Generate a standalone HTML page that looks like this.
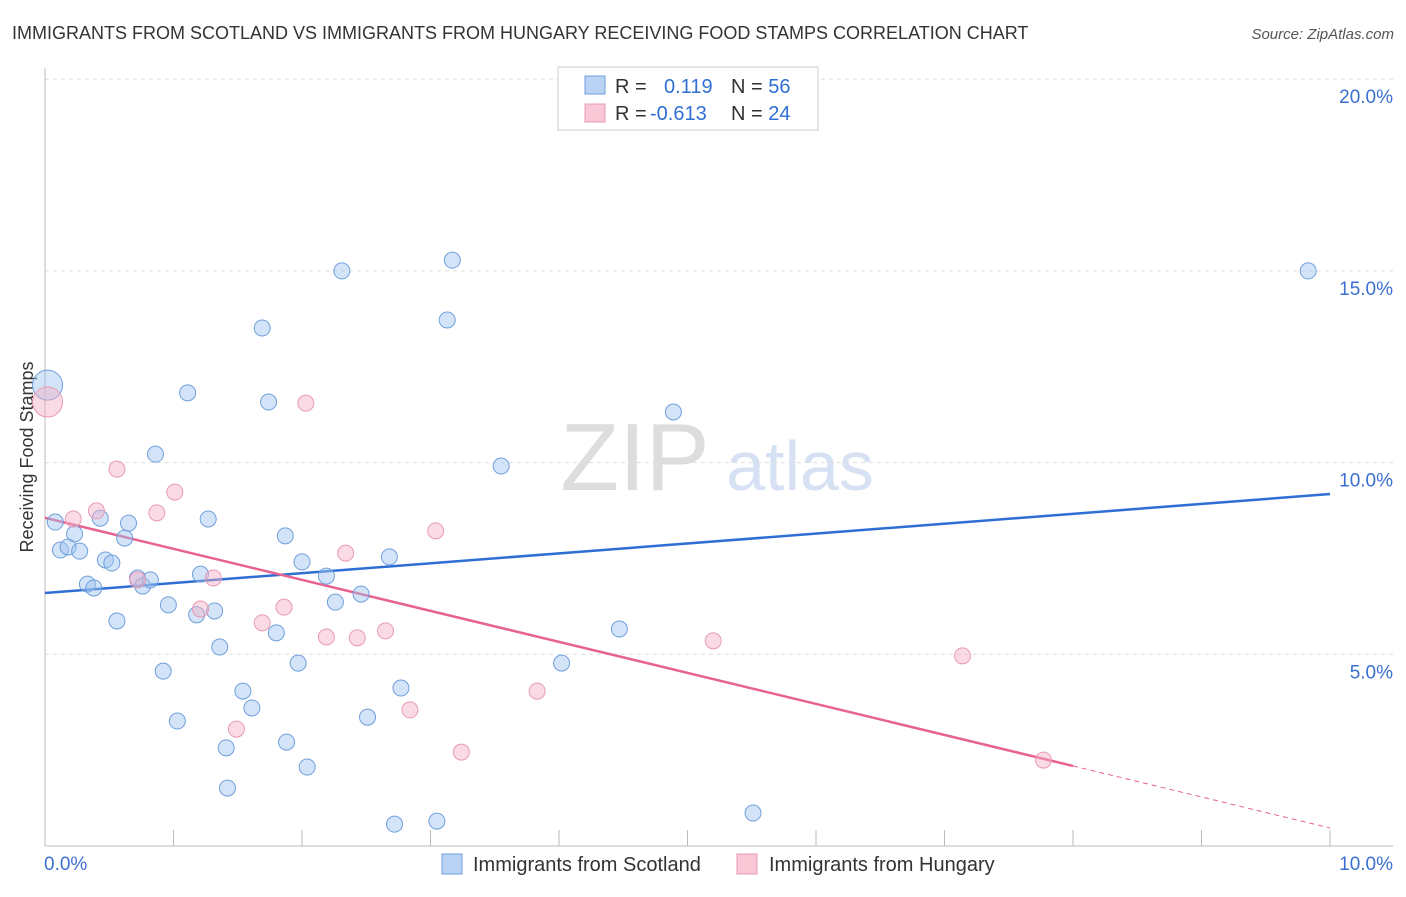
<!DOCTYPE html>
<html><head><meta charset="utf-8"><style>
body{margin:0;background:#fff;font-family:"Liberation Sans",sans-serif;}
svg text{font-family:"Liberation Sans",sans-serif;}
</style></head><body>
<svg id="chart" width="1406" height="892" xmlns="http://www.w3.org/2000/svg">
<text x="12" y="39" font-size="18" fill="#333">IMMIGRANTS FROM SCOTLAND VS IMMIGRANTS FROM HUNGARY RECEIVING FOOD STAMPS CORRELATION CHART</text>
<text x="1394" y="39" font-size="15" fill="#555" font-style="italic" text-anchor="end">Source: ZipAtlas.com</text>
<text transform="translate(33,457) rotate(-90)" font-size="18" fill="#333" text-anchor="middle">Receiving Food Stamps</text>
<g>
<text x="635" y="490" font-size="96" fill="#ddd" font-family="Liberation Serif" text-anchor="middle">ZIP</text>
<text x="800" y="490" font-size="70" fill="#d6e2f4" text-anchor="middle">atlas</text>
</g>
<g id="grid"></g><g id="axes"></g><g id="lines"></g><g id="points"></g>
<g>
<rect x="558" y="67" width="260" height="63" fill="#fff" stroke="#ccc"/>
<rect x="585" y="76" width="20" height="18" fill="#b9d3f5" stroke="#6f9fdc"/>
<rect x="585" y="104" width="20" height="18" fill="#f9c8d7" stroke="#e89ab5"/>
<text x="615" y="93" font-size="20" fill="#333">R = <tspan fill="#2f6fd4" x="664">0.119</tspan><tspan fill="#333" x="731">N = </tspan><tspan fill="#2f6fd4">56</tspan></text>
<text x="615" y="120" font-size="20" fill="#333">R = <tspan fill="#2f6fd4" x="650">-0.613</tspan><tspan fill="#333" x="731">N = </tspan><tspan fill="#2f6fd4">24</tspan></text>
</g>
<g>
<rect x="442" y="854" width="20" height="20" fill="#b9d3f5" stroke="#6f9fdc"/>
<text x="473" y="871" font-size="20" fill="#333">Immigrants from Scotland</text>
<rect x="737" y="854" width="20" height="20" fill="#f9c8d7" stroke="#e89ab5"/>
<text x="769" y="871" font-size="20" fill="#333">Immigrants from Hungary</text>
</g>
</svg>
<script>
const yTicks=[5,10,15,20];
const yTickLabels=["5.0%","10.0%","15.0%","20.0%"];
const xTickLabels=["0.0%","10.0%"];
const blueX=[0.02,0.08,0.12,0.18,0.23,0.27,0.33,0.38,0.43,0.47,0.52,0.56,0.62,0.65,0.72,0.76,0.82,0.86,0.92,0.96,1.03,1.11,1.18,1.21,1.27,1.32,1.36,1.42,1.41,1.54,1.61,1.69,1.74,1.80,1.87,1.88,1.97,2.00,2.04,2.19,2.26,2.31,2.46,2.51,2.68,2.72,2.77,3.05,3.13,3.17,3.55,4.02,4.47,4.89,5.51,9.83];
const blueY=[12.02,8.45,7.72,7.80,8.14,7.69,6.83,6.73,8.55,7.46,7.38,5.87,8.03,8.42,6.99,6.78,6.94,10.22,4.56,6.29,3.26,11.82,6.03,7.09,8.53,6.13,5.19,1.51,2.56,4.04,3.60,13.51,11.58,5.56,8.09,2.71,4.77,7.41,2.06,7.04,6.36,15.00,6.57,3.36,7.54,0.57,4.12,0.65,13.72,15.28,9.91,4.77,5.66,11.32,0.86,15.00];
const pinkX=[0.02,0.22,0.40,0.56,0.72,0.87,1.01,1.21,1.31,1.49,1.69,1.86,2.03,2.19,2.34,2.43,2.65,2.84,3.04,3.24,3.83,5.20,7.14,7.77];
const pinkY=[11.58,8.53,8.74,9.83,6.94,8.69,9.23,6.18,6.99,3.05,5.82,6.23,11.55,5.45,7.64,5.43,5.61,3.55,8.22,2.45,4.04,5.35,4.96,2.24];
const blueLine=[6.60,9.18];
const pinkLine=[8.56,0.47];
const pinkSolidEnd=8.0;
const NS="http://www.w3.org/2000/svg";
const X=v=>45+v*128.5, Y=v=>846-v*38.34;
function mk(tag,attrs,parent){const e=document.createElementNS(NS,tag);for(const k in attrs)e.setAttribute(k,attrs[k]);document.getElementById(parent).appendChild(e);return e;}
yTicks.forEach((t,i)=>{
 const g=mk('line',{x1:45,x2:1393,y1:Y(t),y2:Y(t),stroke:'#ddd','stroke-dasharray':'4,4'},'grid');
 
 
 const l=mk('text',{x:1393,y:Y(t)+24,'font-size':19,fill:'#3b6fd0','text-anchor':'end'},'grid');l.textContent=yTickLabels[i];
 
 
});
const ax=mk('line',{x1:45,x2:45,y1:68,y2:846,stroke:'#bbb'},'axes');


const bx=mk('line',{x1:45,x2:1393,y1:846,y2:846,stroke:'#bbb'},'axes');


for(let i=1;i<=10;i++){const t=mk('line',{x1:X(i),x2:X(i),y1:830,y2:846,stroke:'#bbb'},'axes');
 
 }
[[0,'start',44],[10,'end',1393]].forEach((d,i)=>{const t=mk('text',{x:d[2],y:870,'font-size':19,fill:'#3b6fd0','text-anchor':d[1]},'axes');t.textContent=xTickLabels[i];
 
 });
function drawPts(xs,ys,fill,stroke,name){xs.forEach((x,i)=>{const r=(i===0)?15:8;
 const c=mk('circle',{cx:X(x),cy:Y(ys[i]),r:r,fill:fill,stroke:stroke,'stroke-width':1},'points');
 
 });}
drawPts(blueX,blueY,'rgba(160,196,240,0.45)','#6f9fdc','scotland-point');
drawPts(pinkX,pinkY,'rgba(245,175,198,0.45)','#e89ab5','hungary-point');
const bl=mk('line',{x1:X(0),y1:Y(blueLine[0]),x2:X(10),y2:Y(blueLine[1]),stroke:'#2f6fd4','stroke-width':2.5},'lines');


const pm=pinkLine[0]+(pinkLine[1]-pinkLine[0])*pinkSolidEnd/10;
const pl=mk('line',{x1:X(0),y1:Y(pinkLine[0]),x2:X(pinkSolidEnd),y2:Y(pm),stroke:'#e8628f','stroke-width':2.5},'lines');


const pd=mk('line',{x1:X(pinkSolidEnd),y1:Y(pm),x2:X(10),y2:Y(pinkLine[1]),stroke:'#e8628f','stroke-width':1,'stroke-dasharray':'5,4'},'lines');


</script>
</body></html>
